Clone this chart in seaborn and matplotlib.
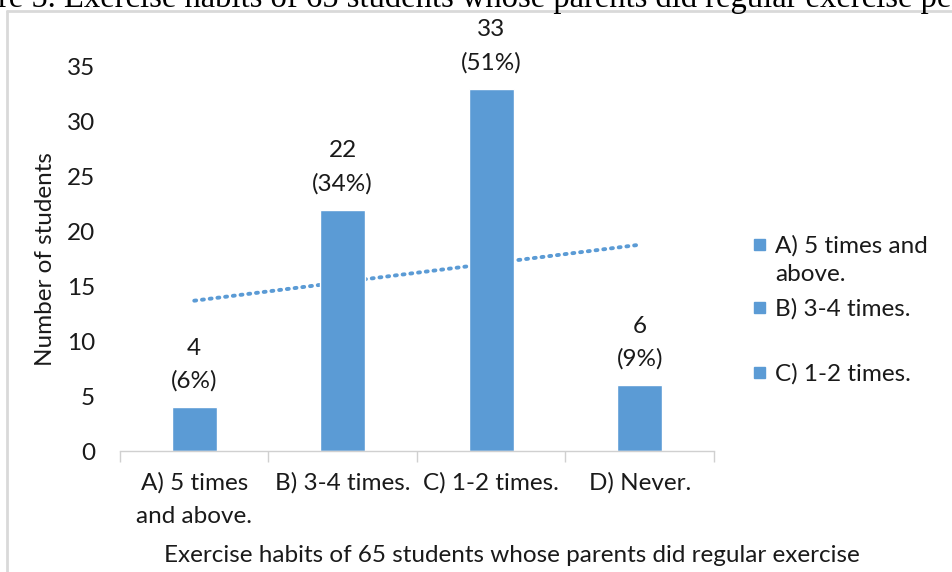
import numpy as np
import pandas as pd
import matplotlib
matplotlib.use("Agg")
import matplotlib.pyplot as plt
import seaborn as sns
from matplotlib.patches import Rectangle
from matplotlib.lines import Line2D

categories = ["A) 5 times\nand above.", "B) 3-4 times.", "C) 1-2 times.", "D) Never."]
counts = [4, 22, 33, 6]
percents = ["(6%)", "(34%)", "(51%)", "(9%)"]
legend_labels = ["A) 5 times and\nabove.", "B) 3-4 times.", "C) 1-2 times."]
yticks = [0, 5, 10, 15, 20, 25, 30, 35]
caption = "re 5. Exercise habits of 65 students whose parents did regular exercise per"

BLUE = "#5B9BD5"
FONT = "Lato"
FS = 17.5
TXT = "#1a1a1a"

sns.set_theme(style="white")
plt.rcParams["font.family"] = [FONT, "DejaVu Sans"]

W, H = 953, 572
fig = plt.figure(figsize=(W / 100, H / 100), dpi=100)
ax = fig.add_axes([120 / W, 1 - 451 / H, (714 - 120) / W, (451 - 67) / H])

df = pd.DataFrame({"cat": categories, "n": counts})
x = np.arange(len(categories))

# trend line (linear fit) behind bars
coef = np.polyfit(x, counts, 1)
ax.plot(x, np.polyval(coef, x), linestyle=(0, (0.5, 1.5)), color=BLUE, lw=2.8,
        dash_capstyle="round", zorder=1)

sns.barplot(data=df, x="cat", y="n", color=BLUE, saturation=1, width=0.3, ax=ax, zorder=2)

ax.set_ylim(0, 35)
ax.set_xlim(-0.5, 3.5)
ax.set_yticks(yticks)
ax.tick_params(axis="y", length=0, pad=18, labelsize=FS, labelcolor=TXT)
ax.set_xticks(x)
ax.set_xticklabels(categories, fontsize=FS, linespacing=1.75, color=TXT)
ax.tick_params(axis="x", which="major", length=0, pad=15)
ax.set_xticks(np.arange(-0.5, 4, 1), minor=True)
ax.tick_params(axis="x", which="minor", length=8, width=1, color="#d0d0d0", direction="out")
ax.tick_params(axis="x", which="minor", bottom=True)

for s in ["top", "right", "left"]:
    ax.spines[s].set_visible(False)
ax.spines["bottom"].set_color("#d0d0d0")
ax.spines["bottom"].set_linewidth(1)

ax.set_ylabel("Number of students", fontsize=FS, color=TXT, labelpad=8)
ax.set_xlabel("")

# x-axis title, centred in the chart area as in the reference
fig.text(512 / W, 1 - 555 / H, "Exercise habits of 65 students whose parents did regular exercise",
         fontsize=FS, color=TXT, ha="center", va="center")

for xi, (c, p) in enumerate(zip(counts, percents)):
    ax.annotate(str(c), (xi, c), xytext=(0, 59), textcoords="offset pixels",
                ha="center", va="center", fontsize=FS, color=TXT, annotation_clip=False)
    ax.annotate(p, (xi, c), xytext=(0, 26), textcoords="offset pixels",
                ha="center", va="center", fontsize=FS, color=TXT, annotation_clip=False)

# legend drawn manually (Excel style)
leg_y = [245, 308, 373]
for lab, yy in zip(legend_labels, leg_y):
    fig.patches.append(Rectangle((754 / W, 1 - (yy + 5) / H), 11 / W, 11 / H,
                                 transform=fig.transFigure, color=BLUE))
    fig.text(775 / W, 1 - (yy - 10) / H, lab, fontsize=FS, color=TXT,
             ha="left", va="top", linespacing=1.45)

# frame lines of the chart area
fig.add_artist(Line2D([7 / W, 7 / W], [0, 1 - 11 / H], transform=fig.transFigure,
                      color="#d9d9d9", lw=2))
fig.add_artist(Line2D([7 / W, 1], [1 - 11 / H, 1 - 11 / H], transform=fig.transFigure,
                      color="#d9d9d9", lw=2))

# caption above the chart, cut by the page edge as in the reference
fig.text(-2 / W, 1 - 7 / H, caption, fontsize=23.5, family="Liberation Serif",
         ha="left", va="baseline", color="black")

fig.savefig("out.png", dpi=100)
